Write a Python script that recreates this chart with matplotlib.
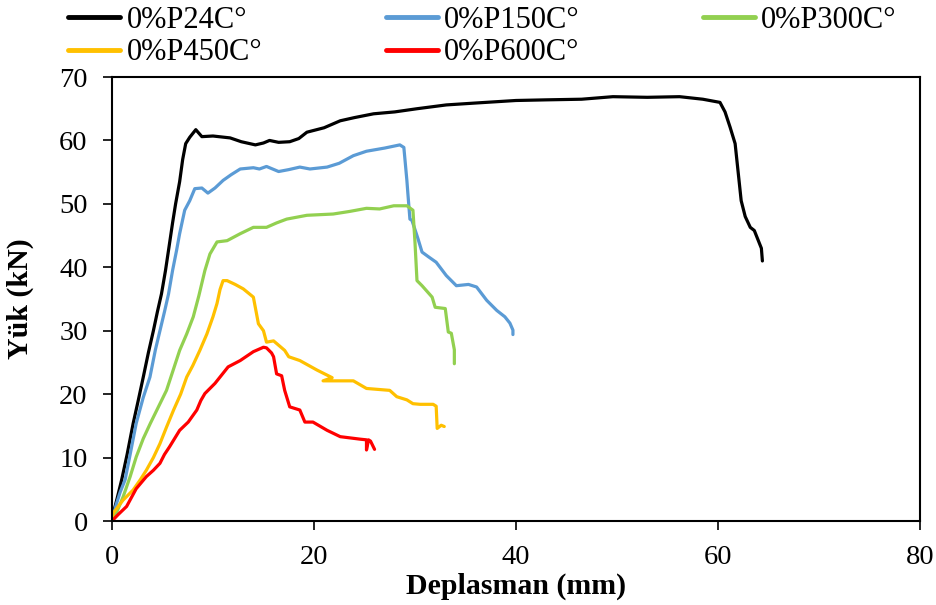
import matplotlib
matplotlib.use("Agg")
import matplotlib.pyplot as plt

plt.rcParams['font.family'] = ['Liberation Serif', 'DejaVu Serif']

# 0%P24C°
x24 = [0, 0.13, 0.5, 0.96, 1.5, 2.1, 2.6, 3.1, 3.6, 4.1, 4.5, 4.9, 5.3, 5.6, 6.0, 6.3, 6.7, 7.0, 7.3, 7.7,
       8.3, 8.9, 10, 11.7, 12.8, 14.2, 15.0, 15.6, 16.5, 17.6, 18.5, 19.3, 21, 22.6, 24, 25.9, 28, 30.2,
       33.1, 36, 40, 43, 46.5, 49.6, 53, 56.2, 58.5, 60.2, 60.7, 61.2, 61.7, 62, 62.3, 62.7, 63.2, 63.6,
       64, 64.3, 64.4]
y24 = [0, 1.2, 3.5, 6.5, 10.5, 15.4, 19, 22.7, 26.5, 30, 33, 35.8, 39.5, 42.7, 47, 50, 53.5, 57, 59.5, 60.5,
       61.7, 60.6, 60.7, 60.4, 59.8, 59.3, 59.6, 60, 59.7, 59.8, 60.3, 61.3, 62, 63.1, 63.6, 64.2, 64.5, 65,
       65.6, 65.9, 66.3, 66.4, 66.5, 66.9, 66.8, 66.9, 66.5, 66, 64.5, 62.1, 59.5, 55, 50.5, 48, 46.3, 45.8,
       44.2, 43, 41]

# 0%P150C°
x150 = [0, 0.4, 0.8, 1.3, 1.8, 2.4, 3.1, 3.76, 4.3, 4.75, 5.2, 5.6, 6.0, 6.4, 6.7, 7.2, 7.7, 8.2, 8.9, 9.5,
        10.2, 11, 11.8, 12.7, 14, 14.6, 15.3, 16.5, 17.5, 18.6, 19.6, 21.3, 22.5, 23.9, 25.2, 27, 28.5,
        28.9, 29.2, 29.3, 29.5, 29.7, 30.3, 30.7, 31.3, 32.1, 33.1, 34.1, 35.3, 36.1, 37.1, 38.1, 38.9,
        39.4, 39.7, 39.7]
y150 = [0, 2.5, 4.5, 6.5, 10.5, 15.4, 19.5, 22.7, 27, 30, 33, 35.8, 39.5, 42.7, 45.3, 49, 50.5, 52.4, 52.5, 51.7,
        52.5, 53.7, 54.6, 55.5, 55.7, 55.5, 55.9, 55.1, 55.4, 55.8, 55.5, 55.8, 56.4, 57.6, 58.3, 58.8, 59.3,
        58.9, 53.7, 51.6, 47.6, 47.4, 44.5, 42.4, 41.7, 40.8, 38.7, 37.1, 37.3, 36.9, 34.8, 33.2, 32.2,
        31.2, 30.1, 29.4]

# 0%P300C°
x300 = [0, 0.5, 1.1, 1.8, 2.4, 3.1, 3.8, 4.6, 5.4, 6.0, 6.7, 7.4, 8.05, 8.6, 9.2, 9.7, 10.4, 11.4, 12.7, 14,
        15.3, 16.3, 17.3, 19.3, 21.9, 23.5, 25.2, 26.5, 27.9, 29.2, 29.8, 30.0, 30.2, 30.7, 31.7, 32, 33,
        33.3, 33.6, 33.9, 33.9]
y300 = [0, 1.5, 3.8, 7, 10.1, 13, 15.4, 18, 20.6, 23.5, 26.9, 29.5, 32.2, 35.5, 39.5, 42.1, 44, 44.2, 45.3, 46.3,
        46.3, 47, 47.6, 48.2, 48.4, 48.8, 49.3, 49.2, 49.7, 49.7, 49.0, 44, 37.9, 37.1, 35.3, 33.7, 33.5,
        29.8, 29.6, 27, 24.8]

# 0%P450C°
x450 = [0, 0.1, 1.1, 2.1, 2.8, 3.4, 4.1, 4.75, 5.4, 6.1, 6.8, 7.4, 8.0, 8.7, 9.4, 10, 10.4, 10.7, 11, 11.4,
        12.2, 13, 14, 14.5, 15, 15.3, 16, 17.1, 17.5, 18.6, 20.3, 21.8, 20.9, 23.9, 25.2, 27.5, 28.2, 29.2,
        29.8, 30.5, 31.8, 32.1, 32.2, 32.6, 32.9]
y450 = [0, 1.2, 3.3, 4.9, 6.5, 8, 10, 12.2, 14.8, 17.5, 20, 22.7, 24.5, 26.9, 29.5, 32.2, 34.3, 36.5, 37.9, 37.9,
        37.3, 36.6, 35.3, 31.1, 30, 28.2, 28.4, 26.9, 25.9, 25.3, 23.8, 22.6, 22.1, 22.1, 20.9, 20.6, 19.6, 19.1,
        18.5, 18.4, 18.4, 18.1, 14.6, 15.1, 14.9]

# 0%P600C°
x600 = [0, 0.6, 1.45, 2.4, 3.4, 4.1, 4.75, 5.2, 5.7, 6.2, 6.7, 7.55, 8.4, 8.8, 9.2, 10.2, 11.5, 12.7, 14, 15,
        15.3, 15.8, 16, 16.3, 16.8, 17.1, 17.6, 18.6, 19.1, 19.9, 21.3, 22.6, 24.6, 25.2, 25.2, 25.4, 25.6, 26]
y600 = [0, 1, 2.3, 5.1, 7, 8, 9.1, 10.5, 11.7, 13, 14.3, 15.6, 17.5, 19, 20.1, 21.7, 24.3, 25.3, 26.7, 27.4,
        27.3, 26.5, 25.9, 23.2, 22.9, 20.6, 18, 17.5, 15.6, 15.6, 14.3, 13.3, 12.9, 12.8, 11.2, 12.8, 12.6, 11.3]

names = ['0%P24C°', '0%P150C°', '0%P300C°', '0%P450C°', '0%P600C°']
colors = ['#000000', '#5B9BD5', '#92D050', '#FFC000', '#FF0000']

fig = plt.figure(figsize=(9.37, 6.05), dpi=100)
ax = fig.add_axes([0.1195, 0.1388, 0.8623, 0.7339])

series = [(x24, y24), (x150, y150), (x300, y300), (x450, y450), (x600, y600)]
lines = []
for (xs, ys), name, c in zip(series, names, colors):
    l, = ax.plot(xs, ys, color=c, lw=2.3, label=name, solid_capstyle='round', solid_joinstyle='round')
    lines.append(l)

ax.set_xlim(0, 80)
ax.set_ylim(0, 70)
ax.set_xticks([0, 20, 40, 60, 80])
ax.set_yticks(range(0, 71, 10))
ax.tick_params(direction='out', length=6.5, width=1.2, labelsize=20.5, pad=11)
for s in ax.spines.values():
    s.set_linewidth(1.5)

ax.set_xlabel('Deplasman (mm)', fontsize=21.5, fontweight='bold', labelpad=2)
ax.set_ylabel('Yük (kN)', fontsize=21.5, fontweight='bold', labelpad=18)

# row-wise legend order: matplotlib fills columns first
order = [0, 3, 1, 4, 2]
leg = fig.legend([lines[i] for i in order], [names[i] for i in order],
                 loc='upper left', bbox_to_anchor=(0.06, 1.01), ncol=3, frameon=False,
                 fontsize=22, handlelength=1.7, handletextpad=0.2, columnspacing=4.05,
                 labelspacing=0.1, borderaxespad=0)
for h in leg.get_lines():
    h.set_linewidth(3.5)

fig.savefig('out.png', dpi=100)
